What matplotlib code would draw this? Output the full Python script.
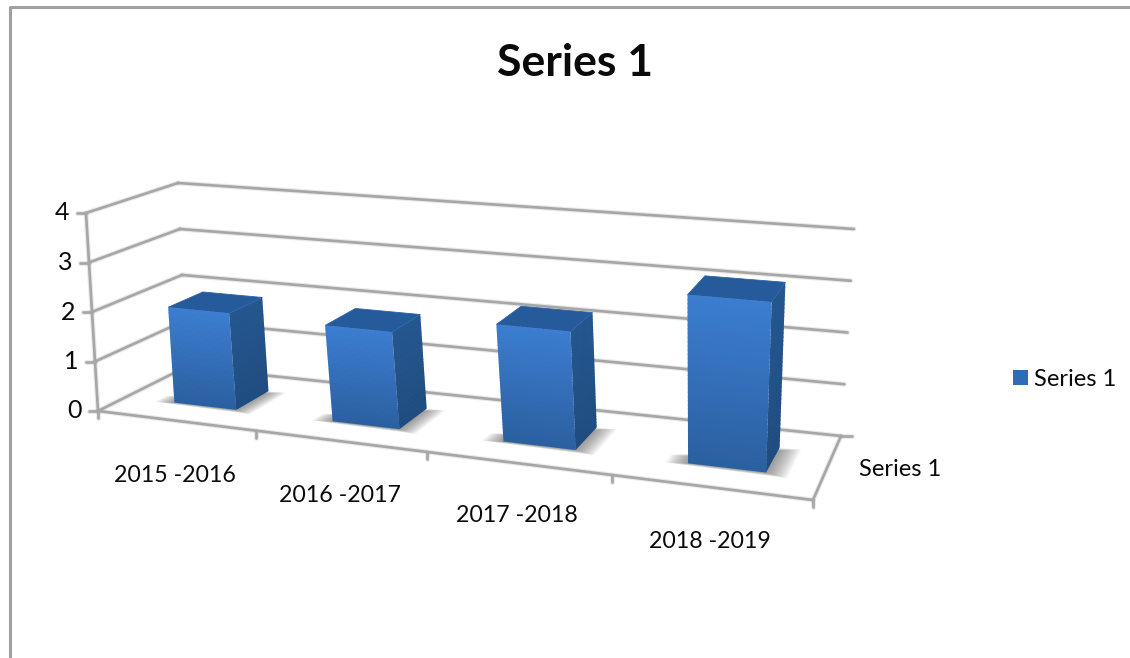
import numpy as np
import matplotlib
matplotlib.use("Agg")
import matplotlib.pyplot as plt
from matplotlib.patches import Polygon, Rectangle

categories = ["2015 -2016", "2016 -2017", "2017 -2018", "2018 -2019"]
values = [1.95, 1.9, 2.25, 3.15]
y_ticks = [0, 1, 2, 3, 4]
series_name = "Series 1"

plt.rcParams['font.family'] = ['Lato', 'DejaVu Sans']
W, H = 1130, 658
fig = plt.figure(figsize=(W / 100, H / 100), dpi=100)
ax = fig.add_axes([0, 0, 1, 1])
ax.set_xlim(0, W)
ax.set_ylim(H, 0)
ax.axis("off")

# scene frame: corners of the 3D box on screen (front-left, front-right, back-right, back-left)
floor_px = [(98, 411), (813, 500), (841, 436), (186, 367)]
roof_px = [(86, 213), (827, 277), (854, 229), (178, 183)]


def homography(pts):
    src = [(0, 0), (1, 0), (1, 1), (0, 1)]
    A, b = [], []
    for (u, v), (x, y) in zip(src, pts):
        A.append([u, v, 1, 0, 0, 0, -u * x, -v * x]); b.append(x)
        A.append([0, 0, 0, u, v, 1, -u * y, -v * y]); b.append(y)
    return np.append(np.linalg.solve(np.array(A, float), np.array(b, float)), 1).reshape(3, 3)


HF, HR = homography(floor_px), homography(roof_px)
ymax = y_ticks[-1]


def proj(u, v, h):
    u = u + 0.067 * u * (1 - u)
    def ap(M):
        p = M @ np.array([u, v, 1.0])
        return p[:2] / p[2]
    t = h / ymax
    return tuple((1 - t) * ap(HF) + t * ap(HR))


GRID = "#a6a6a6"


def line(a, b, lw=1.9, c=GRID, z=2):
    ax.plot([a[0], b[0]], [a[1], b[1]], color=c, lw=lw + 1.6, alpha=0.25, zorder=z, solid_capstyle="round")
    ax.plot([a[0], b[0]], [a[1], b[1]], color=c, lw=lw, zorder=z, solid_capstyle="round")


# frame of the picture
ax.plot([10, 10, 1130], [H, 7, 7], color="#a0a0a0", lw=2.2, zorder=1)

# walls
for t in y_ticks:
    fl, bl, br = proj(0, 0, t), proj(0, 1, t), proj(1, 1, t)
    line(fl, bl)
    line(bl, br)
    line(fl, (fl[0] - 9, fl[1]))
    ax.text(fl[0] - 24, fl[1], str(t), ha="center", va="center", fontsize=18, color="#0a0a0a", zorder=6)
line(proj(0, 0, 0), proj(0, 0, ymax))

# floor
n = len(categories)
line(proj(0, 0, 0), proj(1, 0, 0))
line(proj(1, 0, 0), proj(1, 1, 0))
bk = proj(1, 1, 0)
line(bk, (bk[0] + 11, bk[1]))
label_off = [(-81, 45), (-87, 44), (-95, 41), (-103, 41)]
for i in range(n + 1):
    p = proj(i / n, 0, 0)
    line(p, (p[0], p[1] + 7))
for i, c in enumerate(categories):
    p = proj((i + 1) / n, 0, 0)
    ax.text(p[0] + label_off[i][0], p[1] + label_off[i][1], c, ha="center", va="center",
            fontsize=16.7, color="#0a0a0a", zorder=6)
ax.text(900, 470, series_name, ha="center", va="center", fontsize=17, color="#0a0a0a", zorder=6)

BAR_W, BAR_D = 0.4, 0.4
BAR_SHIFT = 0.005


def lerp_c(a, b, t):
    return tuple((1 - t) * np.array(matplotlib.colors.to_rgb(a)) + t * np.array(matplotlib.colors.to_rgb(b)))


def gradient_face(a, b, c, d, top, bottom, z, steps=40):
    """a,b top edge; d,c bottom edge"""
    a, b, c, d = map(np.array, (a, b, c, d))
    for k in range(steps):
        t0, t1 = k / steps, (k + 1.3) / steps
        t1 = min(t1, 1)
        ax.add_patch(Polygon([a + (d - a) * t0, b + (c - b) * t0, b + (c - b) * t1, a + (d - a) * t1],
                             closed=True, fc=lerp_c(top, bottom, t0), ec="none", zorder=z))


for i, val in enumerate(values):
    u0 = (i + 0.5) / n - BAR_W / n / 2 + BAR_SHIFT
    u1 = u0 + BAR_W / n
    v0, v1 = 0.5 - BAR_D / 2, 0.5 + BAR_D / 2
    z = 3 + i * 0.01
    # soft shadow on the floor
    for s in np.linspace(1.0, 0.0, 14):
        su, sd = s * 0.028, s * 0.09
        ax.add_patch(Polygon([proj(u0 - su, v0 - sd * 0.3, 0), proj(u1 + su, v0 - sd * 0.5, 0),
                              proj(u1 + su, v1 + sd * 0.1, 0), proj(u0 - su, v0 + (v1 - v0) * 0.25, 0)],
                             closed=True, fc="#555555", ec="none", alpha=0.06, zorder=z))
    # right side, top, front
    gradient_face(proj(u1, v0, val), proj(u1, v1, val), proj(u1, v1, 0), proj(u1, v0, 0),
                  "#24568f", "#1f4c7f", z + 0.001)
    ax.add_patch(Polygon([proj(u0, v0, val), proj(u1, v0, val), proj(u1, v1, val), proj(u0, v1, val)],
                         closed=True, fc="#265b9b", ec="#2a62a6", lw=0.6, zorder=z + 0.002))
    gradient_face(proj(u0, v0, val), proj(u1, v0, val), proj(u1, v0, 0), proj(u0, v0, 0),
                  "#3c7dd0", "#2b5f9f", z + 0.003)

# title and legend
ax.text(575, 63, series_name, ha="center", va="center", fontsize=32, fontweight="bold", color="#0a0a0a", zorder=6)
ax.add_patch(Rectangle((1013, 370), 15, 15, fc="#2f6cb8", ec="none", zorder=6))
ax.text(1034, 380, series_name, ha="left", va="center", fontsize=17, color="#0a0a0a", zorder=6)

fig.savefig("out.png", dpi=100)
